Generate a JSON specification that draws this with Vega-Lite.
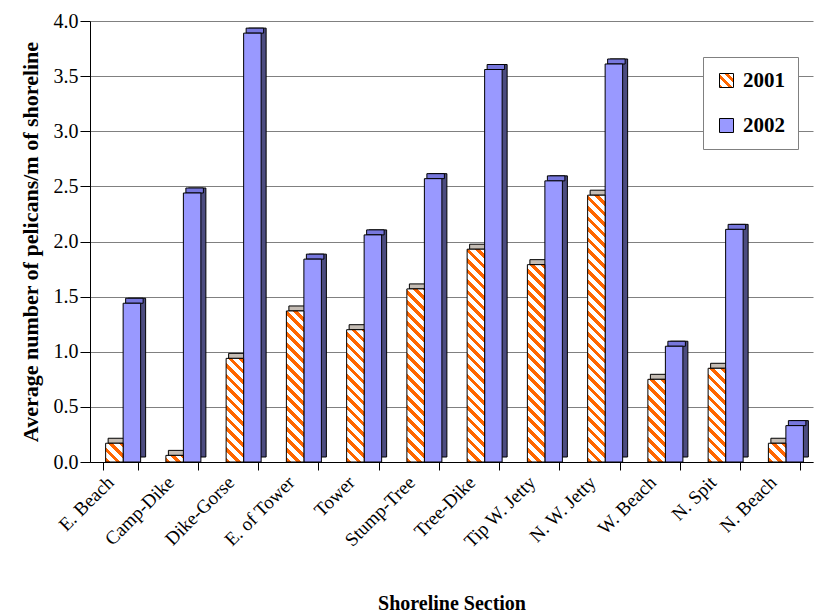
{
  "$schema": "https://vega.github.io/schema/vega-lite/v6.json",
  "width": 723,
  "height": 441,
  "autosize": {"type": "none"},
  "padding": {"left": 90, "top": 21, "right": 2, "bottom": 151},
  "background": "white",
  "params": [
    {"name": "legendStripe", "value": {"gradient": "linear", "x1": 0, "y1": 1, "x2": 1, "y2": 0, "stops": [
      {"offset": 0, "color": "#f60"}, {"offset": 0.14, "color": "#f60"}, {"offset": 0.14, "color": "#fff"}, {"offset": 0.333, "color": "#fff"},
      {"offset": 0.333, "color": "#f60"}, {"offset": 0.473, "color": "#f60"}, {"offset": 0.473, "color": "#fff"}, {"offset": 0.667, "color": "#fff"},
      {"offset": 0.667, "color": "#f60"}, {"offset": 0.807, "color": "#f60"}, {"offset": 0.807, "color": "#fff"}, {"offset": 1, "color": "#fff"}
    ]}},
    {"name": "stripes", "value": [
      {"offset":0,"color":"#f60"},{"offset":0.016,"color":"#f60"},{"offset":0.016,"color":"#fff"},{"offset":0.0357,"color":"#fff"},
      {"offset":0.0357,"color":"#f60"},{"offset":0.0517,"color":"#f60"},{"offset":0.0517,"color":"#fff"},{"offset":0.0714,"color":"#fff"},
      {"offset":0.0714,"color":"#f60"},{"offset":0.0874,"color":"#f60"},{"offset":0.0874,"color":"#fff"},{"offset":0.1071,"color":"#fff"},
      {"offset":0.1071,"color":"#f60"},{"offset":0.1231,"color":"#f60"},{"offset":0.1231,"color":"#fff"},{"offset":0.1429,"color":"#fff"},
      {"offset":0.1429,"color":"#f60"},{"offset":0.1589,"color":"#f60"},{"offset":0.1589,"color":"#fff"},{"offset":0.1786,"color":"#fff"},
      {"offset":0.1786,"color":"#f60"},{"offset":0.1946,"color":"#f60"},{"offset":0.1946,"color":"#fff"},{"offset":0.2143,"color":"#fff"},
      {"offset":0.2143,"color":"#f60"},{"offset":0.2303,"color":"#f60"},{"offset":0.2303,"color":"#fff"},{"offset":0.25,"color":"#fff"},
      {"offset":0.25,"color":"#f60"},{"offset":0.266,"color":"#f60"},{"offset":0.266,"color":"#fff"},{"offset":0.2857,"color":"#fff"},
      {"offset":0.2857,"color":"#f60"},{"offset":0.3017,"color":"#f60"},{"offset":0.3017,"color":"#fff"},{"offset":0.3214,"color":"#fff"},
      {"offset":0.3214,"color":"#f60"},{"offset":0.3374,"color":"#f60"},{"offset":0.3374,"color":"#fff"},{"offset":0.3571,"color":"#fff"},
      {"offset":0.3571,"color":"#f60"},{"offset":0.3731,"color":"#f60"},{"offset":0.3731,"color":"#fff"},{"offset":0.3929,"color":"#fff"},
      {"offset":0.3929,"color":"#f60"},{"offset":0.4089,"color":"#f60"},{"offset":0.4089,"color":"#fff"},{"offset":0.4286,"color":"#fff"},
      {"offset":0.4286,"color":"#f60"},{"offset":0.4446,"color":"#f60"},{"offset":0.4446,"color":"#fff"},{"offset":0.4643,"color":"#fff"},
      {"offset":0.4643,"color":"#f60"},{"offset":0.4803,"color":"#f60"},{"offset":0.4803,"color":"#fff"},{"offset":0.5,"color":"#fff"},
      {"offset":0.5,"color":"#f60"},{"offset":0.516,"color":"#f60"},{"offset":0.516,"color":"#fff"},{"offset":0.5357,"color":"#fff"},
      {"offset":0.5357,"color":"#f60"},{"offset":0.5517,"color":"#f60"},{"offset":0.5517,"color":"#fff"},{"offset":0.5714,"color":"#fff"},
      {"offset":0.5714,"color":"#f60"},{"offset":0.5874,"color":"#f60"},{"offset":0.5874,"color":"#fff"},{"offset":0.6071,"color":"#fff"},
      {"offset":0.6071,"color":"#f60"},{"offset":0.6231,"color":"#f60"},{"offset":0.6231,"color":"#fff"},{"offset":0.6429,"color":"#fff"},
      {"offset":0.6429,"color":"#f60"},{"offset":0.6589,"color":"#f60"},{"offset":0.6589,"color":"#fff"},{"offset":0.6786,"color":"#fff"},
      {"offset":0.6786,"color":"#f60"},{"offset":0.6946,"color":"#f60"},{"offset":0.6946,"color":"#fff"},{"offset":0.7143,"color":"#fff"},
      {"offset":0.7143,"color":"#f60"},{"offset":0.7303,"color":"#f60"},{"offset":0.7303,"color":"#fff"},{"offset":0.75,"color":"#fff"},
      {"offset":0.75,"color":"#f60"},{"offset":0.766,"color":"#f60"},{"offset":0.766,"color":"#fff"},{"offset":0.7857,"color":"#fff"},
      {"offset":0.7857,"color":"#f60"},{"offset":0.8017,"color":"#f60"},{"offset":0.8017,"color":"#fff"},{"offset":0.8214,"color":"#fff"},
      {"offset":0.8214,"color":"#f60"},{"offset":0.8374,"color":"#f60"},{"offset":0.8374,"color":"#fff"},{"offset":0.8571,"color":"#fff"},
      {"offset":0.8571,"color":"#f60"},{"offset":0.8731,"color":"#f60"},{"offset":0.8731,"color":"#fff"},{"offset":0.8929,"color":"#fff"},
      {"offset":0.8929,"color":"#f60"},{"offset":0.9089,"color":"#f60"},{"offset":0.9089,"color":"#fff"},{"offset":0.9286,"color":"#fff"},
      {"offset":0.9286,"color":"#f60"},{"offset":0.9446,"color":"#f60"},{"offset":0.9446,"color":"#fff"},{"offset":0.9643,"color":"#fff"},
      {"offset":0.9643,"color":"#f60"},{"offset":0.9803,"color":"#f60"},{"offset":0.9803,"color":"#fff"},{"offset":1,"color":"#fff"}
    ]}
  ],
  "data": {"values": [
    {"Section": "E. Beach", "Year": "2001", "Value": 0.17},
    {"Section": "E. Beach", "Year": "2002", "Value": 1.44},
    {"Section": "Camp-Dike", "Year": "2001", "Value": 0.06},
    {"Section": "Camp-Dike", "Year": "2002", "Value": 2.44},
    {"Section": "Dike-Gorse", "Year": "2001", "Value": 0.94},
    {"Section": "Dike-Gorse", "Year": "2002", "Value": 3.89},
    {"Section": "E. of Tower", "Year": "2001", "Value": 1.37},
    {"Section": "E. of Tower", "Year": "2002", "Value": 1.84},
    {"Section": "Tower", "Year": "2001", "Value": 1.2},
    {"Section": "Tower", "Year": "2002", "Value": 2.06},
    {"Section": "Stump-Tree", "Year": "2001", "Value": 1.57},
    {"Section": "Stump-Tree", "Year": "2002", "Value": 2.57},
    {"Section": "Tree-Dike", "Year": "2001", "Value": 1.93},
    {"Section": "Tree-Dike", "Year": "2002", "Value": 3.56},
    {"Section": "Tip W. Jetty", "Year": "2001", "Value": 1.79},
    {"Section": "Tip W. Jetty", "Year": "2002", "Value": 2.55},
    {"Section": "N. W. Jetty", "Year": "2001", "Value": 2.42},
    {"Section": "N. W. Jetty", "Year": "2002", "Value": 3.61},
    {"Section": "W. Beach", "Year": "2001", "Value": 0.75},
    {"Section": "W. Beach", "Year": "2002", "Value": 1.05},
    {"Section": "N. Spit", "Year": "2001", "Value": 0.85},
    {"Section": "N. Spit", "Year": "2002", "Value": 2.11},
    {"Section": "N. Beach", "Year": "2001", "Value": 0.17},
    {"Section": "N. Beach", "Year": "2002", "Value": 0.33}
  ]},
  "config": {
    "view": {"stroke": null},
    "font": "Liberation Serif",
    "axis": {"labelFont": "Liberation Serif", "titleFont": "Liberation Serif", "labelColor": "black", "titleColor": "black", "domainColor": "black", "tickColor": "black", "domainWidth": 1}
  },
  "encoding": {
    "x": {
      "field": "Section", "type": "nominal",
      "sort": ["E. Beach", "Camp-Dike", "Dike-Gorse", "E. of Tower", "Tower", "Stump-Tree", "Tree-Dike", "Tip W. Jetty", "N. W. Jetty", "W. Beach", "N. Spit", "N. Beach"],
      "scale": {"paddingInner": 0.42, "paddingOuter": 0.21},
      "title": "Shoreline Section",
      "axis": {"labelAngle": -45, "labelAlign": "right", "labelBaseline": "middle", "labelFontSize": 19, "labelPadding": 9, "labelOffset": -10, "tickBand": "extent", "tickSize": 8, "titleFontSize": 20, "titleFontWeight": "bold", "titlePadding": 42, "grid": false}
    },
    "y": {
      "field": "Value", "type": "quantitative",
      "scale": {"domain": [0, 4], "nice": false},
      "title": "Average number of pelicans/m of shoreline",
      "axis": {"values": [0, 0.5, 1, 1.5, 2, 2.5, 3, 3.5, 4], "format": ".1f", "tickSize": 10, "labelPadding": 2, "labelFontSize": 20, "titleFontSize": 22, "titleFontWeight": "bold", "titlePadding": 11, "grid": true, "gridColor": "#808080", "gridOpacity": 1}
    }
  },
  "layer": [
    {
      "data": {"values": [{"Part": "floor"}]},
      "mark": {"type": "rect", "fill": "#808080"},
      "encoding": {
        "x": {"value": 0},
        "x2": {"value": "width"},
        "y": {"datum": 0, "type": "quantitative", "title": "Average number of pelicans/m of shoreline"},
        "y2": {"datum": 0.06}
      }
    },
    {
      "transform": [{"filter": "datum.Year === '2002'"}],
      "mark": {"type": "bar", "width": 17.5, "xOffset": 16.75, "yOffset": -5, "fill": "#4C4C80", "stroke": "black", "strokeWidth": 1}
    },
    {
      "transform": [{"filter": "datum.Year === '2001'"}],
      "mark": {"type": "tick", "orient": "horizontal", "size": 17.5, "thickness": 5, "xOffset": -3.25, "yOffset": -2.5, "fill": "#C4BCB4", "stroke": "black", "strokeWidth": 1, "opacity": 1}
    },
    {
      "transform": [{"filter": "datum.Year === '2002'"}],
      "mark": {"type": "tick", "orient": "horizontal", "size": 17.5, "thickness": 5, "xOffset": 14.25, "yOffset": -2.5, "fill": "#7777DD", "stroke": "black", "strokeWidth": 1, "opacity": 1}
    },
    {
      "transform": [{"filter": "datum.Year === '2002'"}],
      "mark": {"type": "bar", "width": 17.5, "xOffset": 11.75, "stroke": "black", "strokeWidth": 1},
      "encoding": {
        "fill": {
          "field": "Year", "type": "nominal",
          "scale": {
            "domain": ["2001", "2002"],
            "range": [{"expr": "legendStripe"}, "#9999FF"]
          },
          "legend": {
            "title": null, "orient": "none", "legendX": 613, "legendY": 36, "direction": "vertical",
            "symbolType": "square", "symbolSize": 196, "symbolStrokeColor": "black", "symbolStrokeWidth": 1,
            "labelFontSize": 21, "labelFontWeight": "bold", "labelFont": "Liberation Serif", "labelColor": "black",
            "fillColor": "white", "strokeColor": "#808080", "padding": 13, "rowPadding": 23, "labelOffset": 6
          }
        }
      }
    },
    {
      "transform": [{"filter": "datum.Year === '2001'"}],
      "mark": {
        "type": "bar", "width": 17.5, "xOffset": -5.75, "stroke": "black", "strokeWidth": 1,
        "fill": {"expr": "{gradient: 'linear', x1: 0, y1: 1, x2: 5145 / (306.25 + pow(scale('y', 0) - scale('y', datum.Value), 2)), y2: 1 - 294 * (scale('y', 0) - scale('y', datum.Value)) / (306.25 + pow(scale('y', 0) - scale('y', datum.Value), 2)), stops: stripes}"}
      }
    }
  ]
}
